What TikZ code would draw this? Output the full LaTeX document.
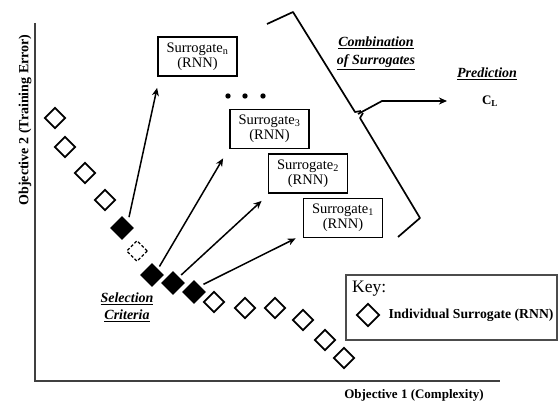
\documentclass[tikz,border=0pt]{standalone}
\usepackage{fontspec}
\setmainfont{Liberation Serif}
\usetikzlibrary{shapes.geometric}
\usetikzlibrary{arrows.meta}
\usetikzlibrary{positioning}
\tikzset{dia/.style = {diamond, draw, line width=1.7pt, inner sep=0pt, minimum size=21pt},
         picked/.style = {dia, fill=black, minimum size=22pt},
         maybe/.style = {dia, line width=1.3pt, dash pattern=on 3pt off 2pt},
         surbox/.style = {draw, line width=1.8pt, minimum width=79pt, minimum height=39pt,
                          align=center, inner sep=1pt, font=\fontsize{14.5}{15}\selectfont},
         arr/.style = {-{Stealth[length=8pt,width=7pt,inset=2.5pt]}, line width=1.5pt},
         heading/.style = {align=center, inner sep=1pt, font=\fontsize{14}{18}\selectfont\bfseries\itshape}}

\begin{document}
\begin{tikzpicture}[x=1pt, y=-1pt]
    \useasboundingbox (0,0) rectangle (558,401);
    % axes
    \coordinate (o) at (35,381);
    \draw [line width=2.2pt, black!75] (35,23) -- (o) -- (500,381);
    \node [rotate=90, font=\fontsize{14}{14}\selectfont\bfseries] (ylab) at (25,120) {Objective 2 (Training Error)};
    \node [font=\fontsize{13}{13}\selectfont\bfseries] (xlab) at (414,395) {Objective 1 (Complexity)};
    % front of surrogates
    \foreach \x/\y/\s [count=\i] in {55/118/dia, 65/147/dia, 85/173/dia, 105/200/dia,
        122/228/picked, 137/251/maybe, 152/275/picked, 173/283/picked, 194/292/picked,
        214/302/dia, 245/308/dia, 275/308/dia, 303/320/dia, 325/340/dia, 344/358/dia} {
      \node [\s] (d\i) at (\x,\y) {};
    }
    % chosen surrogates
    \node [surbox] (sn) at (197.5,56.5) {Surrogate\textsubscript{n}\\(RNN)};
    \node [surbox] (s3) at (269.5,129) {Surrogate\textsubscript{3}\\(RNN)};
    \node [surbox] (s2) at (308,173.5) {Surrogate\textsubscript{2}\\(RNN)};
    \node [surbox] (s1) at (343,218) {Surrogate\textsubscript{1}\\(RNN)};
    \foreach \x in {228, 245, 263} {
      \fill (\x,96) circle (2.7pt);
    }
    \draw [arr, shorten <=5pt] (d5.north east) -- ([yshift=-11pt]sn.south west);
    \draw [arr, shorten <=3pt] (d7.north east) -- ([xshift=-6pt, yshift=-9pt]s3.south west);
    \draw [arr, shorten <=3pt] (d8.north east) -- ([xshift=-6pt, yshift=-7pt]s2.south west);
    \draw [arr, shorten <=4pt] (d9.north east) -- ([xshift=-7pt]s1.south west);
    % brace and prediction
    \draw [line width=1.7pt, line join=round] (267,24) -- (293,12) -- (355,112) -- (361,111);
    \draw [line width=1.7pt, line join=round] (363,113) -- (360,118) -- (420,218) -- (398,237);
    \coordinate (cusp) at (358,114);
    \coordinate (tip) at (447,101);
    \draw [arr, line width=1.7pt, line join=round] (cusp) -- (382,101) -- (tip);
    \node [heading] (comb) at (376,53) {\underline{Combination}\\\underline{of Surrogates}};
    \node [heading] (pred) at (487,74) {\underline{Prediction}};
    \node [font=\fontsize{13}{13}\selectfont\bfseries] (cl) at (490,101) {C\textsubscript{L}};
    \node [heading, font=\fontsize{14}{17}\selectfont\bfseries\itshape] (sel) at (127,307) {\underline{Selection}\\\underline{Criteria}};
    % key
    \node [draw, line width=1.4pt, black!70, minimum width=211pt, minimum height=65pt] (key) at (451.5,307.5) {};
    \node [anchor=west, inner sep=0pt, font=\fontsize{17.5}{18}\selectfont] (keyt) at (352,289) {Key:};
    \node [dia, minimum size=23pt] (kd) at (368,315) {};
    \node [right=8pt of kd, inner sep=0pt, font=\fontsize{13.7}{14}\selectfont\bfseries] (keyl) {Individual Surrogate (RNN)};
\end{tikzpicture}
\end{document}
